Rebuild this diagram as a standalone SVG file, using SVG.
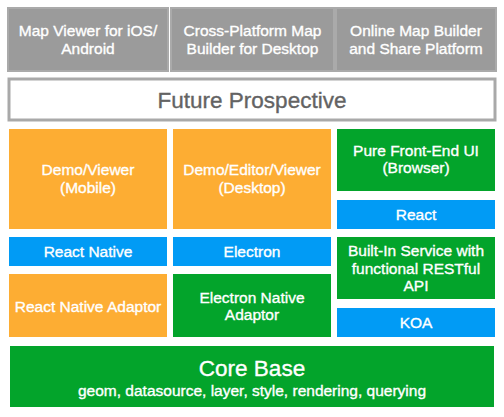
<svg xmlns="http://www.w3.org/2000/svg" width="504" height="417" viewBox="0 0 504 417">
<style>
text{font-family:"Liberation Sans",Arial,Helvetica,sans-serif;font-size:15.5px;fill:#fff;stroke:#fff;stroke-width:0.35;text-anchor:middle}
.gray{fill:#9b9b9b;stroke:#aaaaaa;stroke-width:2}
.fut{fill:#fff;stroke:#a9a9a9;stroke-width:3}
.or{fill:#fdad33}
.gr{fill:#03a42b}
.bl{fill:#019bf5}
.big{font-size:22.5px}
.dark{fill:#636363;stroke:#636363}
</style>
<rect width="504" height="417" fill="#fff"/>
<g id="n-ios"><rect class="gray" x="8" y="8" width="160" height="63"/><text x="88" y="36">Map Viewer for iOS/</text><text x="88" y="54">Android</text></g>
<g id="n-desktop"><rect class="gray" x="171" y="8" width="163" height="63"/><text x="252.5" y="36">Cross-Platform Map</text><text x="252.5" y="54">Builder for Desktop</text></g>
<g id="n-online"><rect class="gray" x="336" y="8" width="160" height="63"/><text x="416" y="36">Online Map Builder</text><text x="416" y="54">and Share Platform</text></g>
<g id="n-future"><rect class="fut" x="9" y="79" width="486" height="41"/><text class="big dark" x="252" y="108">Future Prospective</text></g>
<g id="n-mobile"><rect class="or" x="9" y="129" width="158" height="100"/><text x="88" y="175">Demo/Viewer</text><text x="88" y="193">(Mobile)</text></g>
<g id="n-desk"><rect class="or" x="173" y="129" width="158" height="100"/><text x="252" y="175">Demo/Editor/Viewer</text><text x="252" y="193">(Desktop)</text></g>
<g id="n-browser"><rect class="gr" x="337" y="129" width="158" height="62"/><text x="416" y="156">Pure Front-End UI</text><text x="416" y="173">(Browser)</text></g>
<g id="n-react"><rect class="bl" x="337" y="200" width="158" height="29"/><text x="416" y="219.5">React</text></g>
<g id="n-rn"><rect class="bl" x="9" y="237" width="158" height="29"/><text x="88" y="257">React Native</text></g>
<g id="n-electron"><rect class="bl" x="173" y="237" width="158" height="29"/><text x="252" y="257">Electron</text></g>
<g id="n-service"><rect class="gr" x="337" y="237" width="158" height="62"/><text x="416" y="256">Built-In Service with</text><text x="416" y="273.5">functional RESTful</text><text x="416" y="291">API</text></g>
<g id="n-rnadaptor"><rect class="or" x="9" y="274" width="158" height="63"/><text x="88" y="311.5">React Native Adaptor</text></g>
<g id="n-eadaptor"><rect class="gr" x="173" y="274" width="158" height="63"/><text x="252" y="302.5">Electron Native</text><text x="252" y="320">Adaptor</text></g>
<g id="n-koa"><rect class="bl" x="337" y="308" width="158" height="29"/><text x="416" y="328">KOA</text></g>
<g id="n-core"><rect class="gr" x="10" y="346" width="484" height="61"/><text class="big" x="252" y="376">Core Base</text><text x="252" y="396">geom, datasource, layer, style, rendering, querying</text></g>
<g id="connectors"/>
</svg>
